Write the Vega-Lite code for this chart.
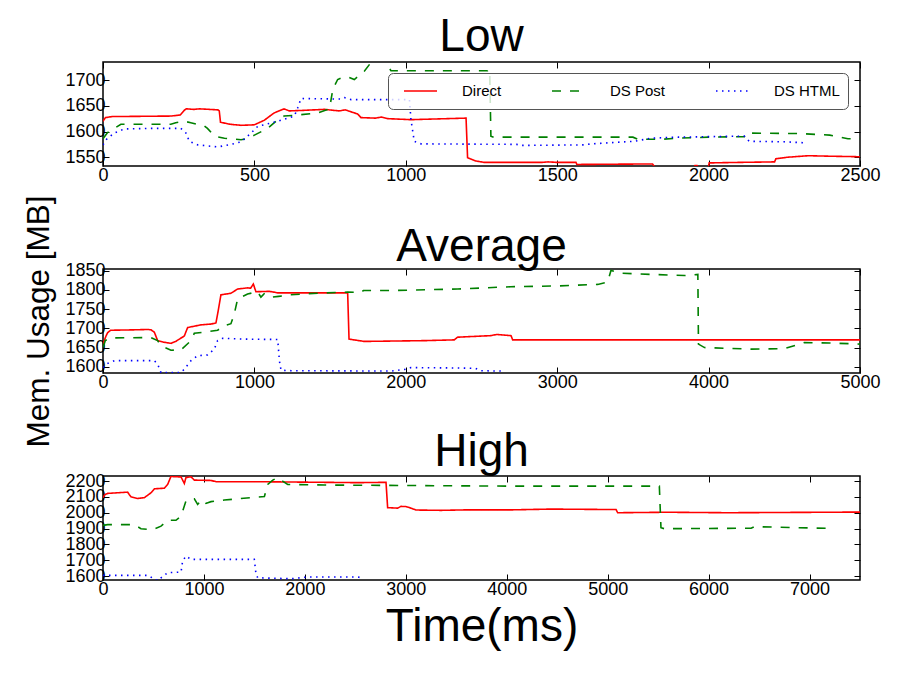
{
  "$schema": "https://vega.github.io/schema/vega-lite/v6.json",
  "padding": {"left": 23, "top": 12, "right": 10, "bottom": 10},
  "background": "white",
  "bounds": "flush",
  "spacing": 103,
  "datasets": {
    "low": [
      {"t":0,"v":1620,"s":"Direct"},{"t":8,"v":1627,"s":"Direct"},{"t":30,"v":1629,"s":"Direct"},{"t":224,"v":1630,"s":"Direct"},{"t":255,"v":1632,"s":"Direct"},{"t":268,"v":1641,"s":"Direct"},{"t":275,"v":1644,"s":"Direct"},{"t":300,"v":1643,"s":"Direct"},{"t":320,"v":1644,"s":"Direct"},{"t":380,"v":1642,"s":"Direct"},{"t":384,"v":1640,"s":"Direct"},{"t":388,"v":1618,"s":"Direct"},{"t":420,"v":1614,"s":"Direct"},{"t":456,"v":1612,"s":"Direct"},{"t":500,"v":1613,"s":"Direct"},{"t":533,"v":1622,"s":"Direct"},{"t":565,"v":1636,"s":"Direct"},{"t":598,"v":1644,"s":"Direct"},{"t":615,"v":1640,"s":"Direct"},{"t":660,"v":1641,"s":"Direct"},{"t":731,"v":1643,"s":"Direct"},{"t":780,"v":1640,"s":"Direct"},{"t":800,"v":1642,"s":"Direct"},{"t":841,"v":1634,"s":"Direct"},{"t":852,"v":1627,"s":"Direct"},{"t":900,"v":1626,"s":"Direct"},{"t":920,"v":1628,"s":"Direct"},{"t":940,"v":1625,"s":"Direct"},{"t":1017,"v":1623,"s":"Direct"},{"t":1199,"v":1626,"s":"Direct"},{"t":1204,"v":1549,"s":"Direct"},{"t":1230,"v":1543,"s":"Direct"},{"t":1259,"v":1540,"s":"Direct"},{"t":1450,"v":1540,"s":"Direct"},{"t":1470,"v":1541,"s":"Direct"},{"t":1500,"v":1540,"s":"Direct"},{"t":1562,"v":1540,"s":"Direct"},{"t":1565,"v":1536,"s":"Direct"},{"t":1815,"v":1537,"s":"Direct"},{"t":1825,"v":1528,"s":"Direct"},{"t":1950,"v":1528,"s":"Direct"},{"t":1955,"v":1534,"s":"Direct"},{"t":1962,"v":1534,"s":"Direct"},{"t":1968,"v":1528,"s":"Direct"},{"t":1998,"v":1528,"s":"Direct"},{"t":2002,"v":1539,"s":"Direct"},{"t":2100,"v":1540,"s":"Direct"},{"t":2218,"v":1541,"s":"Direct"},{"t":2222,"v":1547,"s":"Direct"},{"t":2260,"v":1550,"s":"Direct"},{"t":2330,"v":1553,"s":"Direct"},{"t":2400,"v":1552,"s":"Direct"},{"t":2500,"v":1551,"s":"Direct"},
      {"t":0,"v":1586,"s":"DS Post"},{"t":15,"v":1598,"s":"DS Post"},{"t":40,"v":1607,"s":"DS Post"},{"t":59,"v":1614,"s":"DS Post"},{"t":224,"v":1614,"s":"DS Post"},{"t":240,"v":1617,"s":"DS Post"},{"t":268,"v":1620,"s":"DS Post"},{"t":290,"v":1617,"s":"DS Post"},{"t":334,"v":1611,"s":"DS Post"},{"t":345,"v":1606,"s":"DS Post"},{"t":368,"v":1591,"s":"DS Post"},{"t":401,"v":1587,"s":"DS Post"},{"t":456,"v":1584,"s":"DS Post"},{"t":480,"v":1587,"s":"DS Post"},{"t":500,"v":1593,"s":"DS Post"},{"t":544,"v":1606,"s":"DS Post"},{"t":577,"v":1623,"s":"DS Post"},{"t":598,"v":1630,"s":"DS Post"},{"t":643,"v":1632,"s":"DS Post"},{"t":709,"v":1636,"s":"DS Post"},{"t":748,"v":1644,"s":"DS Post"},{"t":759,"v":1682,"s":"DS Post"},{"t":775,"v":1701,"s":"DS Post"},{"t":790,"v":1705,"s":"DS Post"},{"t":808,"v":1706,"s":"DS Post"},{"t":830,"v":1701,"s":"DS Post"},{"t":863,"v":1717,"s":"DS Post"},{"t":885,"v":1734,"s":"DS Post"},{"t":900,"v":1740,"s":"DS Post"},{"t":930,"v":1738,"s":"DS Post"},{"t":951,"v":1718,"s":"DS Post"},{"t":1100,"v":1718,"s":"DS Post"},{"t":1270,"v":1718,"s":"DS Post"},{"t":1274,"v":1721,"s":"DS Post"},{"t":1277,"v":1720,"s":"DS Post"},{"t":1281,"v":1591,"s":"DS Post"},{"t":1290,"v":1589,"s":"DS Post"},{"t":1750,"v":1589,"s":"DS Post"},{"t":1766,"v":1585,"s":"DS Post"},{"t":1850,"v":1585,"s":"DS Post"},{"t":1900,"v":1587,"s":"DS Post"},{"t":2000,"v":1589,"s":"DS Post"},{"t":2118,"v":1590,"s":"DS Post"},{"t":2125,"v":1597,"s":"DS Post"},{"t":2300,"v":1596,"s":"DS Post"},{"t":2400,"v":1593,"s":"DS Post"},{"t":2460,"v":1586,"s":"DS Post"},{"t":2500,"v":1586,"s":"DS Post"},
      {"t":0,"v":1574,"s":"DS HTML"},{"t":12,"v":1585,"s":"DS HTML"},{"t":37,"v":1597,"s":"DS HTML"},{"t":70,"v":1605,"s":"DS HTML"},{"t":150,"v":1606,"s":"DS HTML"},{"t":257,"v":1606,"s":"DS HTML"},{"t":274,"v":1597,"s":"DS HTML"},{"t":285,"v":1581,"s":"DS HTML"},{"t":313,"v":1574,"s":"DS HTML"},{"t":379,"v":1570,"s":"DS HTML"},{"t":423,"v":1575,"s":"DS HTML"},{"t":456,"v":1580,"s":"DS HTML"},{"t":489,"v":1597,"s":"DS HTML"},{"t":511,"v":1610,"s":"DS HTML"},{"t":577,"v":1620,"s":"DS HTML"},{"t":632,"v":1630,"s":"DS HTML"},{"t":643,"v":1646,"s":"DS HTML"},{"t":654,"v":1664,"s":"DS HTML"},{"t":786,"v":1663,"s":"DS HTML"},{"t":797,"v":1666,"s":"DS HTML"},{"t":819,"v":1662,"s":"DS HTML"},{"t":1012,"v":1662,"s":"DS HTML"},{"t":1017,"v":1623,"s":"DS HTML"},{"t":1028,"v":1581,"s":"DS HTML"},{"t":1050,"v":1576,"s":"DS HTML"},{"t":1366,"v":1575,"s":"DS HTML"},{"t":1380,"v":1573,"s":"DS HTML"},{"t":1590,"v":1574,"s":"DS HTML"},{"t":1612,"v":1576,"s":"DS HTML"},{"t":1755,"v":1581,"s":"DS HTML"},{"t":1810,"v":1587,"s":"DS HTML"},{"t":1900,"v":1589,"s":"DS HTML"},{"t":2000,"v":1590,"s":"DS HTML"},{"t":2118,"v":1591,"s":"DS HTML"},{"t":2134,"v":1581,"s":"DS HTML"},{"t":2250,"v":1580,"s":"DS HTML"},{"t":2322,"v":1578,"s":"DS HTML"}
    ],
    "avg": [
      {"t":0,"v":1660,"s":"Direct"},{"t":20,"v":1680,"s":"Direct"},{"t":31,"v":1689,"s":"Direct"},{"t":50,"v":1695,"s":"Direct"},{"t":200,"v":1696,"s":"Direct"},{"t":300,"v":1697,"s":"Direct"},{"t":317,"v":1696,"s":"Direct"},{"t":339,"v":1690,"s":"Direct"},{"t":361,"v":1668,"s":"Direct"},{"t":400,"v":1664,"s":"Direct"},{"t":449,"v":1661,"s":"Direct"},{"t":480,"v":1666,"s":"Direct"},{"t":537,"v":1680,"s":"Direct"},{"t":559,"v":1702,"s":"Direct"},{"t":647,"v":1709,"s":"Direct"},{"t":713,"v":1711,"s":"Direct"},{"t":746,"v":1714,"s":"Direct"},{"t":757,"v":1737,"s":"Direct"},{"t":779,"v":1787,"s":"Direct"},{"t":845,"v":1791,"s":"Direct"},{"t":889,"v":1802,"s":"Direct"},{"t":955,"v":1805,"s":"Direct"},{"t":975,"v":1804,"s":"Direct"},{"t":993,"v":1815,"s":"Direct"},{"t":1010,"v":1795,"s":"Direct"},{"t":1100,"v":1796,"s":"Direct"},{"t":1154,"v":1792,"s":"Direct"},{"t":1616,"v":1792,"s":"Direct"},{"t":1625,"v":1672,"s":"Direct"},{"t":1725,"v":1666,"s":"Direct"},{"t":2121,"v":1668,"s":"Direct"},{"t":2320,"v":1670,"s":"Direct"},{"t":2342,"v":1677,"s":"Direct"},{"t":2562,"v":1681,"s":"Direct"},{"t":2600,"v":1684,"s":"Direct"},{"t":2695,"v":1681,"s":"Direct"},{"t":2706,"v":1670,"s":"Direct"},{"t":5000,"v":1670,"s":"Direct"},
      {"t":0,"v":1650,"s":"DS Post"},{"t":15,"v":1668,"s":"DS Post"},{"t":46,"v":1675,"s":"DS Post"},{"t":317,"v":1676,"s":"DS Post"},{"t":361,"v":1668,"s":"DS Post"},{"t":383,"v":1655,"s":"DS Post"},{"t":449,"v":1643,"s":"DS Post"},{"t":515,"v":1644,"s":"DS Post"},{"t":581,"v":1668,"s":"DS Post"},{"t":603,"v":1687,"s":"DS Post"},{"t":669,"v":1690,"s":"DS Post"},{"t":757,"v":1695,"s":"DS Post"},{"t":801,"v":1707,"s":"DS Post"},{"t":845,"v":1712,"s":"DS Post"},{"t":867,"v":1737,"s":"DS Post"},{"t":889,"v":1776,"s":"DS Post"},{"t":955,"v":1789,"s":"DS Post"},{"t":1021,"v":1795,"s":"DS Post"},{"t":1043,"v":1781,"s":"DS Post"},{"t":1065,"v":1790,"s":"DS Post"},{"t":1110,"v":1781,"s":"DS Post"},{"t":1160,"v":1783,"s":"DS Post"},{"t":1242,"v":1787,"s":"DS Post"},{"t":1352,"v":1790,"s":"DS Post"},{"t":1616,"v":1794,"s":"DS Post"},{"t":1704,"v":1793,"s":"DS Post"},{"t":1720,"v":1798,"s":"DS Post"},{"t":1902,"v":1798,"s":"DS Post"},{"t":2342,"v":1802,"s":"DS Post"},{"t":2694,"v":1808,"s":"DS Post"},{"t":3000,"v":1810,"s":"DS Post"},{"t":3268,"v":1814,"s":"DS Post"},{"t":3333,"v":1820,"s":"DS Post"},{"t":3355,"v":1850,"s":"DS Post"},{"t":3421,"v":1843,"s":"DS Post"},{"t":3620,"v":1840,"s":"DS Post"},{"t":3841,"v":1837,"s":"DS Post"},{"t":3929,"v":1840,"s":"DS Post"},{"t":3933,"v":1659,"s":"DS Post"},{"t":3973,"v":1650,"s":"DS Post"},{"t":4282,"v":1646,"s":"DS Post"},{"t":4500,"v":1647,"s":"DS Post"},{"t":4633,"v":1663,"s":"DS Post"},{"t":4800,"v":1662,"s":"DS Post"},{"t":5000,"v":1659,"s":"DS Post"},
      {"t":0,"v":1598,"s":"DS HTML"},{"t":31,"v":1609,"s":"DS HTML"},{"t":75,"v":1616,"s":"DS HTML"},{"t":339,"v":1616,"s":"DS HTML"},{"t":361,"v":1607,"s":"DS HTML"},{"t":383,"v":1585,"s":"DS HTML"},{"t":515,"v":1585,"s":"DS HTML"},{"t":537,"v":1594,"s":"DS HTML"},{"t":581,"v":1616,"s":"DS HTML"},{"t":625,"v":1629,"s":"DS HTML"},{"t":691,"v":1631,"s":"DS HTML"},{"t":735,"v":1646,"s":"DS HTML"},{"t":757,"v":1668,"s":"DS HTML"},{"t":790,"v":1674,"s":"DS HTML"},{"t":933,"v":1672,"s":"DS HTML"},{"t":1154,"v":1671,"s":"DS HTML"},{"t":1165,"v":1616,"s":"DS HTML"},{"t":1176,"v":1591,"s":"DS HTML"},{"t":1242,"v":1590,"s":"DS HTML"},{"t":1902,"v":1589,"s":"DS HTML"},{"t":1990,"v":1593,"s":"DS HTML"},{"t":2033,"v":1598,"s":"DS HTML"},{"t":2342,"v":1597,"s":"DS HTML"},{"t":2460,"v":1596,"s":"DS HTML"},{"t":2496,"v":1590,"s":"DS HTML"},{"t":2629,"v":1589,"s":"DS HTML"}
    ],
    "high": [
      {"t":0,"v":2095,"s":"Direct"},{"t":20,"v":2115,"s":"Direct"},{"t":46,"v":2122,"s":"Direct"},{"t":244,"v":2130,"s":"Direct"},{"t":260,"v":2115,"s":"Direct"},{"t":277,"v":2101,"s":"Direct"},{"t":343,"v":2090,"s":"Direct"},{"t":409,"v":2095,"s":"Direct"},{"t":476,"v":2126,"s":"Direct"},{"t":509,"v":2151,"s":"Direct"},{"t":608,"v":2155,"s":"Direct"},{"t":641,"v":2179,"s":"Direct"},{"t":674,"v":2231,"s":"Direct"},{"t":700,"v":2228,"s":"Direct"},{"t":773,"v":2226,"s":"Direct"},{"t":806,"v":2185,"s":"Direct"},{"t":822,"v":2222,"s":"Direct"},{"t":872,"v":2227,"s":"Direct"},{"t":905,"v":2206,"s":"Direct"},{"t":1070,"v":2204,"s":"Direct"},{"t":1120,"v":2196,"s":"Direct"},{"t":1500,"v":2196,"s":"Direct"},{"t":1863,"v":2194,"s":"Direct"},{"t":2523,"v":2190,"s":"Direct"},{"t":2804,"v":2192,"s":"Direct"},{"t":2820,"v":2032,"s":"Direct"},{"t":2919,"v":2029,"s":"Direct"},{"t":2952,"v":2040,"s":"Direct"},{"t":3000,"v":2039,"s":"Direct"},{"t":3052,"v":2029,"s":"Direct"},{"t":3101,"v":2017,"s":"Direct"},{"t":3349,"v":2015,"s":"Direct"},{"t":3600,"v":2018,"s":"Direct"},{"t":4042,"v":2018,"s":"Direct"},{"t":4439,"v":2023,"s":"Direct"},{"t":5083,"v":2020,"s":"Direct"},{"t":5099,"v":2000,"s":"Direct"},{"t":5595,"v":2003,"s":"Direct"},{"t":6189,"v":2000,"s":"Direct"},{"t":7500,"v":2004,"s":"Direct"},
      {"t":0,"v":1920,"s":"DS Post"},{"t":46,"v":1925,"s":"DS Post"},{"t":310,"v":1925,"s":"DS Post"},{"t":376,"v":1899,"s":"DS Post"},{"t":492,"v":1893,"s":"DS Post"},{"t":575,"v":1915,"s":"DS Post"},{"t":641,"v":1952,"s":"DS Post"},{"t":723,"v":1952,"s":"DS Post"},{"t":773,"v":1979,"s":"DS Post"},{"t":822,"v":2074,"s":"DS Post"},{"t":856,"v":2086,"s":"DS Post"},{"t":905,"v":2088,"s":"DS Post"},{"t":938,"v":2053,"s":"DS Post"},{"t":980,"v":2082,"s":"DS Post"},{"t":1020,"v":2059,"s":"DS Post"},{"t":1070,"v":2070,"s":"DS Post"},{"t":1202,"v":2080,"s":"DS Post"},{"t":1533,"v":2099,"s":"DS Post"},{"t":1599,"v":2102,"s":"DS Post"},{"t":1632,"v":2179,"s":"DS Post"},{"t":1682,"v":2206,"s":"DS Post"},{"t":1731,"v":2222,"s":"DS Post"},{"t":1764,"v":2206,"s":"DS Post"},{"t":1830,"v":2179,"s":"DS Post"},{"t":2193,"v":2175,"s":"DS Post"},{"t":4042,"v":2168,"s":"DS Post"},{"t":5512,"v":2168,"s":"DS Post"},{"t":5528,"v":1905,"s":"DS Post"},{"t":5561,"v":1899,"s":"DS Post"},{"t":6421,"v":1902,"s":"DS Post"},{"t":6454,"v":1912,"s":"DS Post"},{"t":7198,"v":1901,"s":"DS Post"},
      {"t":0,"v":1604,"s":"DS HTML"},{"t":443,"v":1604,"s":"DS HTML"},{"t":520,"v":1578,"s":"DS HTML"},{"t":541,"v":1570,"s":"DS HTML"},{"t":575,"v":1589,"s":"DS HTML"},{"t":641,"v":1621,"s":"DS HTML"},{"t":773,"v":1625,"s":"DS HTML"},{"t":789,"v":1695,"s":"DS HTML"},{"t":822,"v":1726,"s":"DS HTML"},{"t":872,"v":1705,"s":"DS HTML"},{"t":1499,"v":1705,"s":"DS HTML"},{"t":1516,"v":1611,"s":"DS HTML"},{"t":1533,"v":1589,"s":"DS HTML"},{"t":1863,"v":1583,"s":"DS HTML"},{"t":2028,"v":1594,"s":"DS HTML"},{"t":2523,"v":1594,"s":"DS HTML"},{"t":2556,"v":1590,"s":"DS HTML"}
    ]
  },
  "vconcat": [
    {
      "title": "Low",
      "data": {"name": "low"},
      "width": 757, "height": 104,
      "layer": [
        {
          "mark": {"type": "line", "clip": true, "strokeWidth": 1.6},
          "encoding": {
            "x": {"field": "t", "type": "quantitative", "scale": {"domain": [0, 2500], "nice": false, "zero": false}, "axis": {"values": [0, 500, 1000, 1500, 2000, 2500], "title": null}},
            "y": {"field": "v", "type": "quantitative", "scale": {"domain": [1533, 1735], "nice": false, "zero": false}, "axis": {"values": [1550, 1600, 1650, 1700], "title": null}},
            "color": {"field": "s", "type": "nominal", "scale": {"domain": ["Direct", "DS Post", "DS HTML"], "range": ["#ff0000", "#008000", "#0000ff"]}, "legend": {"title": null, "legendX": 285, "legendY": 11}},
            "strokeDash": {"field": "s", "type": "nominal", "scale": {"domain": ["Direct", "DS Post", "DS HTML"], "range": [[1, 0], [9, 9], [1.5, 4.5]]}, "legend": {"title": null, "legendX": 285, "legendY": 11}}
          }
        },
        {
          "mark": {"type": "point", "opacity": 0},
          "encoding": {
            "x": {"field": "t", "type": "quantitative", "scale": {"domain": [0, 2500], "nice": false, "zero": false}, "axis": {"orient": "top", "labels": false, "title": null, "values": [0, 500, 1000, 1500, 2000, 2500]}},
            "y": {"field": "v", "type": "quantitative", "scale": {"domain": [1533, 1735], "nice": false, "zero": false}, "axis": {"orient": "right", "labels": false, "title": null, "values": [1550, 1600, 1650, 1700]}}
          }
        }
      ],
      "resolve": {"axis": {"x": "independent", "y": "independent"}}
    },
    {
      "title": {"text": "Average", "offset": -76},
      "data": {"name": "avg"},
      "width": 757, "height": 104,
      "layer": [
        {
          "mark": {"type": "line", "clip": true, "strokeWidth": 1.6},
          "encoding": {
            "x": {"field": "t", "type": "quantitative", "scale": {"domain": [0, 5000], "nice": false, "zero": false}, "axis": {"values": [0, 1000, 2000, 3000, 4000, 5000], "title": null}},
            "y": {"field": "v", "type": "quantitative", "scale": {"domain": [1584, 1854], "nice": false, "zero": false}, "axis": {"values": [1600, 1650, 1700, 1750, 1800, 1850], "title": "Mem. Usage [MB]", "titleFontSize": 31.5, "titlePadding": 9}},
            "color": {"field": "s", "type": "nominal", "scale": {"domain": ["Direct", "DS Post", "DS HTML"], "range": ["#ff0000", "#008000", "#0000ff"]}, "legend": null},
            "strokeDash": {"field": "s", "type": "nominal", "scale": {"domain": ["Direct", "DS Post", "DS HTML"], "range": [[1, 0], [9, 9], [1.5, 4.5]]}, "legend": null}
          }
        },
        {
          "mark": {"type": "point", "opacity": 0},
          "encoding": {
            "x": {"field": "t", "type": "quantitative", "scale": {"domain": [0, 5000], "nice": false, "zero": false}, "axis": {"orient": "top", "labels": false, "title": null, "values": [0, 1000, 2000, 3000, 4000, 5000]}},
            "y": {"field": "v", "type": "quantitative", "scale": {"domain": [1584, 1854], "nice": false, "zero": false}, "axis": {"orient": "right", "labels": false, "title": null, "values": [1600, 1650, 1700, 1750, 1800, 1850]}}
          }
        }
      ],
      "resolve": {"axis": {"x": "independent", "y": "independent"}}
    },
    {
      "title": "High",
      "data": {"name": "high"},
      "width": 757, "height": 104,
      "layer": [
        {
          "mark": {"type": "line", "clip": true, "strokeWidth": 1.6},
          "encoding": {
            "x": {"field": "t", "type": "quantitative", "scale": {"domain": [0, 7500], "nice": false, "zero": false}, "axis": {"values": [0, 1000, 2000, 3000, 4000, 5000, 6000, 7000], "title": "Time(ms)", "titleFontSize": 46, "titlePadding": 6}},
            "y": {"field": "v", "type": "quantitative", "scale": {"domain": [1575, 2232], "nice": false, "zero": false}, "axis": {"values": [1600, 1700, 1800, 1900, 2000, 2100, 2200], "title": null}},
            "color": {"field": "s", "type": "nominal", "scale": {"domain": ["Direct", "DS Post", "DS HTML"], "range": ["#ff0000", "#008000", "#0000ff"]}, "legend": null},
            "strokeDash": {"field": "s", "type": "nominal", "scale": {"domain": ["Direct", "DS Post", "DS HTML"], "range": [[1, 0], [9, 9], [1.5, 4.5]]}, "legend": null}
          }
        },
        {
          "mark": {"type": "point", "opacity": 0},
          "encoding": {
            "x": {"field": "t", "type": "quantitative", "scale": {"domain": [0, 7500], "nice": false, "zero": false}, "axis": {"orient": "top", "labels": false, "title": null, "values": [0, 1000, 2000, 3000, 4000, 5000, 6000, 7000]}},
            "y": {"field": "v", "type": "quantitative", "scale": {"domain": [1575, 2232], "nice": false, "zero": false}, "axis": {"orient": "right", "labels": false, "title": null, "values": [1600, 1700, 1800, 1900, 2000, 2100, 2200]}}
          }
        }
      ],
      "resolve": {"axis": {"x": "independent", "y": "independent"}}
    }
  ],
  "resolve": {"scale": {"color": "independent", "strokeDash": "independent"}, "legend": {"color": "independent", "strokeDash": "independent"}},
  "config": {
    "font": "Liberation Sans",
    "view": {"stroke": "black", "strokeWidth": 1.5},
    "axis": {"domain": false, "grid": false, "tickSize": -6, "tickColor": "black", "tickWidth": 1, "labelFont": "Liberation Sans", "labelFontSize": 18, "labelColor": "black", "labelFlush": false, "labelOverlap": false, "format": "d", "titleFont": "Liberation Sans", "titleFontWeight": "normal", "titleColor": "black"},
    "axisX": {"labelPadding": 6},
    "axisY": {"labelPadding": 4},
    "title": {"fontSize": 46, "fontWeight": "normal", "font": "Liberation Sans", "color": "black", "frame": "group", "anchor": "middle", "baseline": "alphabetic", "offset": -4},
    "legend": {"orient": "none", "direction": "horizontal", "symbolType": "stroke", "symbolSize": 1089, "symbolStrokeWidth": 1.6, "clipHeight": 20, "labelFontSize": 15, "labelFont": "Liberation Sans", "labelColor": "black", "labelOffset": 24, "columnPadding": 42, "symbolOffset": 7, "padding": 8, "strokeColor": "#555555", "fillColor": "rgba(255,255,255,0.8)", "cornerRadius": 5}
  }
}
